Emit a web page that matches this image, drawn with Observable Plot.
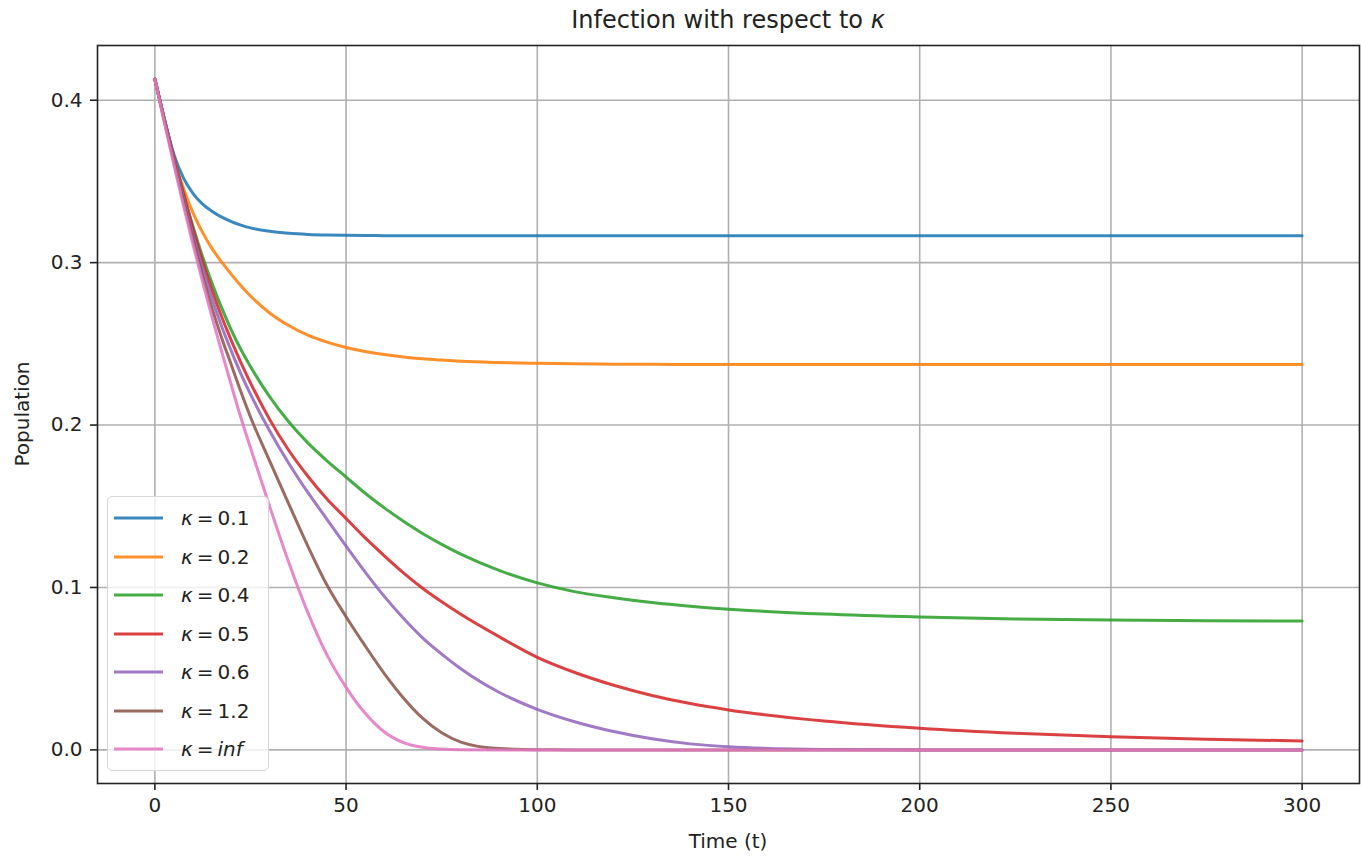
<!DOCTYPE html>
<html>
<head>
<meta charset="utf-8">
<script src="https://cdn.jsdelivr.net/npm/d3@7"></script>
<script src="https://cdn.jsdelivr.net/npm/@observablehq/plot@0.6"></script>
<style>
  html, body { margin: 0; padding: 0; background: #fff; }
  #wrap { position: relative; width: 1361px; height: 856px; font-family: "DejaVu Sans", sans-serif; color: #222; }
  #title { position: absolute; left: 97px; width: 1262px; top: 8px; text-align: center; font-size: 24px; line-height: 24px; }
  #chart { position: absolute; left: 0; top: 36px; }
  #xlabel { position: absolute; left: 97px; width: 1262px; top: 831px; text-align: center; font-size: 20px; line-height: 20px; }
  #ylabel { position: absolute; left: 22px; top: 414px; font-size: 20px; line-height: 20px; transform: translate(-50%, -50%) rotate(-90deg); white-space: nowrap; }
  #legend { position: absolute; left: 107px; top: 496px; width: 162px; height: 275px; box-sizing: border-box;
            border: 1px solid #d6d6d6; border-radius: 5px; background: rgba(255,255,255,0.8); padding-top: 2px; }
  .row { height: 38.5px; display: flex; align-items: center; font-size: 20px; }
  .row svg { margin-left: 6px; margin-right: 18px; }
  .eq { margin: 0 4px; }
</style>
</head>
<body>
<div id="wrap">
  <div id="title">Infection with respect to <i>κ</i></div>
  <div id="chart"></div>
  <div id="xlabel">Time (t)</div>
  <div id="ylabel">Population</div>
  <div id="legend"></div>
</div>
<script>
const times = [0,2.5,5,7.5,10,12.5,15,17.5,20,22.5,25,30,35,40,45,50,55,60,65,70,75,80,90,100,110,120,130,140,150,175,200,225,250,275,300];

const k01 = [0.413,0.3885,0.3665,0.352,0.3425,0.336,0.3315,0.328,0.3253,0.3231,0.3214,0.3193,0.3181,0.3174,0.317,0.3168,0.3167,0.3166,
  0.3165,0.3165,0.3165,0.3165,0.3165,0.3165,0.3165,0.3165,0.3165,0.3165,0.3165,0.3165,0.3165,0.3165,0.3165,0.3165,0.3165];
const k02 = [0.413,0.388,0.364,0.3455,0.3305,0.3185,0.3085,0.3003,0.2928,0.2858,0.2795,0.269,0.2613,0.2554,0.2511,0.2478,
  0.2453,0.2434,0.2419,0.2408,0.24,0.2393,0.2385,0.238,0.2377,0.2375,0.2374,0.2373,0.2373,0.2373,0.2373,0.2373,0.2373,0.2373,0.2373];
const k04 = [0.413,0.388,0.3645,0.3425,0.322,0.3035,0.287,0.272,0.2585,0.2465,0.236,0.2175,0.202,0.189,0.178,0.168,
  0.158,0.149,0.1407,0.1332,0.1265,0.1205,0.1105,0.1028,0.0973,0.0937,0.0907,0.0884,0.0866,0.0836,0.0818,0.0806,0.0799,0.0795,0.0793];
const k05 = [0.413,0.388,0.3645,0.342,0.3205,0.3005,0.2825,0.2665,0.252,0.2385,0.226,0.2035,0.1845,0.1685,0.1545,0.1425,
  0.1305,0.1195,0.109,0.0995,0.0912,0.0835,0.0697,0.057,0.0475,0.0398,0.0335,0.0285,0.0246,0.0178,0.0133,0.0102,0.0081,0.0066,0.0055];
const k06 = [0.413,0.388,0.3635,0.3395,0.317,0.2965,0.2775,0.2605,0.2455,0.2315,0.219,0.1965,0.1765,0.1585,0.142,0.1255,
  0.1095,0.0945,0.081,0.069,0.059,0.050,0.0355,0.025,0.0172,0.0113,0.0068,0.0037,0.0019,0.0003,0,0,0,0,0];
const k12 = [0.413,0.387,0.362,0.3375,0.314,0.292,0.2715,0.2535,0.237,0.2205,0.205,0.178,0.1515,0.1255,0.1015,0.082,
  0.064,0.047,0.032,0.0195,0.0105,0.0048,0.0008,0.0001,0,0,0,0,0,0,0,0,0,0,0];
const kInf = [0.413,0.386,0.360,0.335,0.311,0.288,0.266,0.245,0.2245,0.2045,0.186,0.150,0.1155,0.0845,0.0585,0.0385,
  0.0225,0.011,0.0045,0.0016,0.0005,0.0001,0,0,0,0,0,0,0,0,0,0,0,0,0];

const labels = ["0.1","0.2","0.4","0.5","0.6","1.2","inf"];
const seriesValues = [k01,k02,k04,k05,k06,k12,kInf];
const colors = ["#1f77b4","#ff7f0e","#2ca02c","#d62728","#9467bd","#8c564b","#e377c2"];
const xTicks = [0,50,100,150,200,250,300];
const yTicks = [0,0.1,0.2,0.3,0.4];

const data = [];
labels.forEach((lab, i) => {
  seriesValues[i].forEach((v, j) => data.push({series: lab, t: times[j], v}));
});

const chart = Plot.plot({
  width: 1361,
  height: 820,
  marginLeft: 97,
  marginRight: 2,
  marginTop: 9,
  marginBottom: 73,
  style: {fontFamily: "DejaVu Sans", fontSize: "20px", color: "#222", background: "transparent"},
  x: {domain: [-15, 315]},
  y: {domain: [-0.0207, 0.4337]},
  color: {domain: labels, range: colors},
  marks: [
    Plot.gridX(xTicks, {stroke: "#b0b0b0", strokeOpacity: 1, strokeWidth: 1.6}),
    Plot.gridY(yTicks, {stroke: "#b0b0b0", strokeOpacity: 1, strokeWidth: 1.6}),
    Plot.line(data, {x: "t", y: "v", z: "series", stroke: "series", strokeWidth: 3, strokeOpacity: 0.88, curve: "monotone-x"}),
    Plot.frame({stroke: "#222", strokeWidth: 1.6}),
    Plot.axisX(xTicks, {tickSize: 7, tickPadding: 7, strokeWidth: 1.6, tickFormat: d => String(d), label: null, fill: "#222"}),
    Plot.axisY(yTicks, {tickSize: 7, tickPadding: 8, strokeWidth: 1.6, tickFormat: d3.format(".1f"), label: null, fill: "#222"})
  ]
});
document.getElementById("chart").appendChild(chart);

const legend = document.getElementById("legend");
labels.forEach((lab, i) => {
  const row = document.createElement("div");
  row.className = "row";
  const valueHtml = lab === "inf" ? "<i>inf</i>" : lab;
  row.innerHTML = `<svg width="49" height="6"><line x1="0" x2="49" y1="3" y2="3" stroke="${colors[i]}" stroke-opacity="0.88" stroke-width="3"/></svg>` +
    `<span><i>κ</i><span class="eq">=</span>${valueHtml}</span>`;
  legend.appendChild(row);
});
</script>
</body>
</html>
